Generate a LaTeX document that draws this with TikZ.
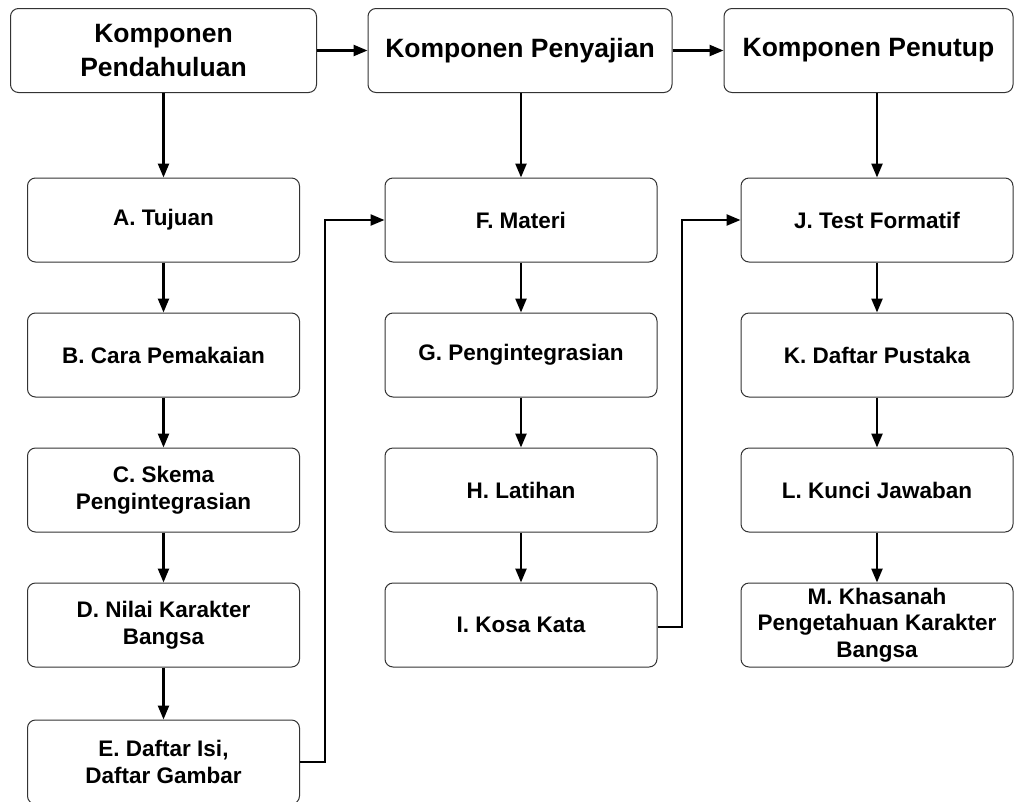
\documentclass[tikz,border=0pt]{standalone}
\usepackage{fontspec}
\setmainfont{Liberation Sans}
\usetikzlibrary{arrows.meta}
\begin{document}
\begin{tikzpicture}[x=1pt,y=-1pt,
  box/.style={draw=black!80, line width=1pt, rounded corners=8pt, minimum width=272pt, minimum height=84pt, align=center, font=\bfseries\fontsize{22.5}{26.5}\selectfont, inner sep=0pt},
  head/.style={box, font=\bfseries\fontsize{26.5}{34}\selectfont},
  conn/.style={line width=2.4pt, -{Triangle[length=14pt,width=11pt]}}]
\useasboundingbox (0,0) rectangle (1023,801);
\node[head, minimum width=306pt] (P) at (163.5,50.5) {Komponen\\Pendahuluan};
\node[head, minimum width=304pt] (Py) at (520,50.5) {Komponen Penyajian};
\node[head, minimum width=289pt] (Pt) at (868.5,50.5) {Komponen Penutup};
\node[box] (A) at (163.5,220) {A. Tujuan};
\node[box] (B) at (163.5,355) {B. Cara Pemakaian};
\node[box] (C) at (163.5,490) {C. Skema\\Pengintegrasian};
\node[box] (D) at (163.5,625) {D. Nilai Karakter\\Bangsa};
\node[box] (E) at (163.5,762) {E. Daftar Isi,\\Daftar Gambar};
\node[box] (F) at (521,220) {F. Materi};
\node[box] (G) at (521,355) {G. Pengintegrasian};
\node[box] (H) at (521,490) {H. Latihan};
\node[box] (I) at (521,625) {I. Kosa Kata};
\node[box] (J) at (877,220) {J. Test Formatif};
\node[box] (K) at (877,355) {K. Daftar Pustaka};
\node[box] (L) at (877,490) {L. Kunci Jawaban};
\node[box] (M) at (877,625) {M. Khasanah\\Pengetahuan Karakter\\Bangsa};
\draw[conn] (P) -- (Py);
\draw[conn] (Py) -- (Pt);
\draw[conn] (P) -- (A);
\draw[conn] (A) -- (B);
\draw[conn] (B) -- (C);
\draw[conn] (C) -- (D);
\draw[conn] (D) -- (E);
\draw[conn] (Py.south -| F) -- (F);
\draw[conn] (F) -- (G);
\draw[conn] (G) -- (H);
\draw[conn] (H) -- (I);
\draw[conn] (Pt.south -| J) -- (J);
\draw[conn] (J) -- (K);
\draw[conn] (K) -- (L);
\draw[conn] (L) -- (M);
\coordinate (e1) at (325,762);
\coordinate (i1) at (682,627);
\draw[conn] (E.east |- e1) -- (e1) |- (F.west);
\draw[conn] (I.east |- i1) -- (i1) |- (J.west);
\end{tikzpicture}
\end{document}
